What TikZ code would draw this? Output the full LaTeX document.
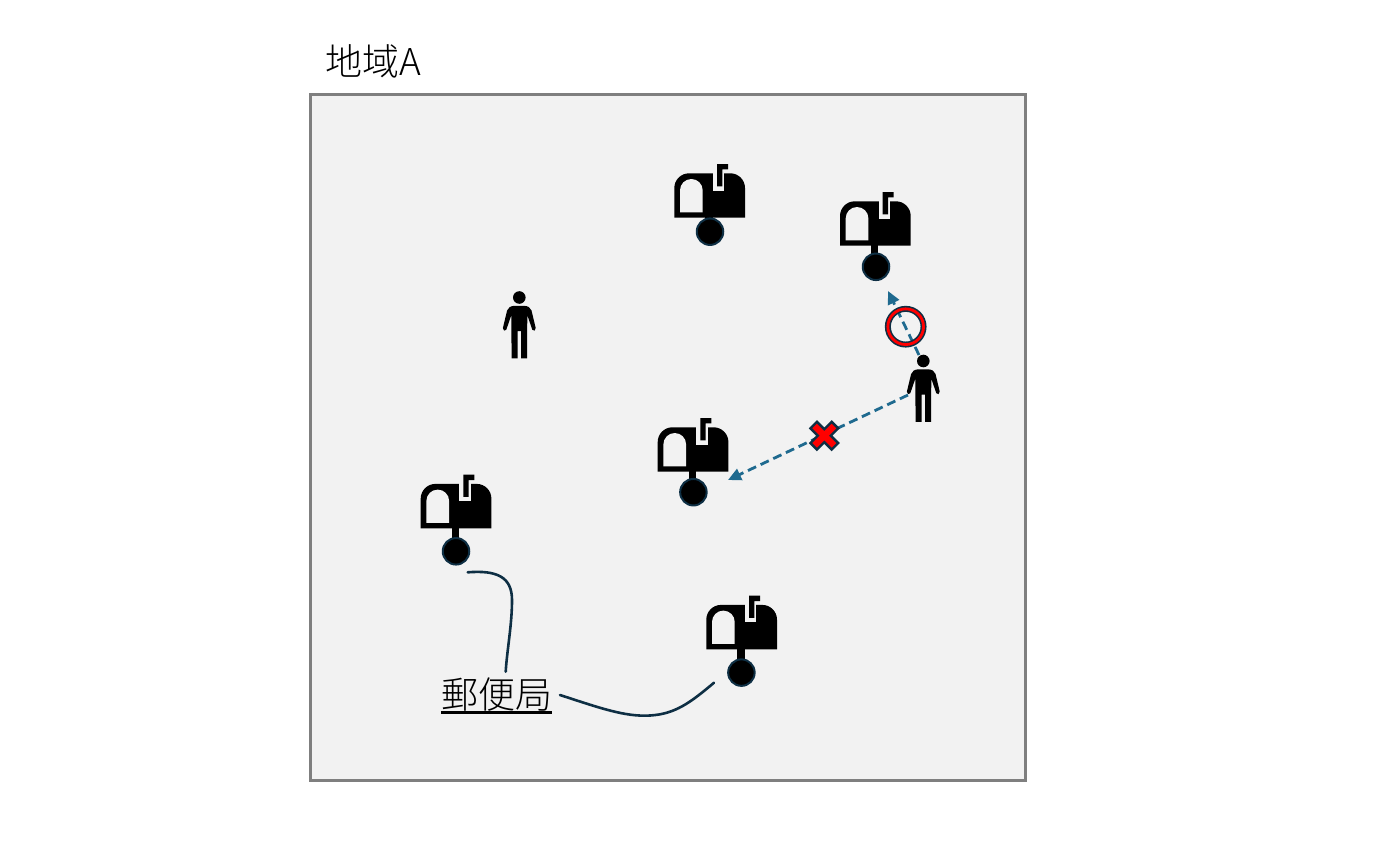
\documentclass[tikz,border=0pt]{standalone}
\usepackage{fontspec}
\usetikzlibrary{arrows.meta}
\newfontfamily\cjk{Noto Sans CJK JP Light}
\definecolor{bgc}{HTML}{F2F2F2}
\definecolor{framec}{HTML}{7F7F7F}
\definecolor{darkc}{HTML}{0E2F44}
\definecolor{arrowc}{HTML}{1F6A8F}
\tikzset{
  x=1pt,y=-1pt,
  label text/.style={font=\cjk\fontsize{37}{40}\selectfont,inner sep=0pt,text=black},
  ball/.style={circle,fill=black,draw=darkc,line width=2pt,minimum size=26.5pt,inner sep=0pt},
  headdot/.style={circle,fill=black,minimum size=12.6pt,inner sep=0pt},
  choice/.style={-{Triangle[length=13pt,width=12pt]},draw=arrowc,line width=2.8pt,dash pattern=on 9pt off 5pt},
  lead/.style={draw=darkc,line width=2.6pt,line cap=round},
  ringmark/.style={circle,line width=#1,minimum size=35.7pt,inner sep=0pt,outer sep=0pt},
  mailbox/.pic={
    \fill[black] (-4.7,-15) rectangle (2.6,-2);
    \fill[black] (-35.7,-14) -- (-35.7,-43.7) .. controls (-35.7,-51.8) and (-29.1,-58.4) .. (-21,-58.4) -- (20.3,-58.4) .. controls (28.4,-58.4) and (35,-51.8) .. (35,-43.7) -- (35,-14) -- cycle;
    \fill[bgc] (-30,-19.4) -- (-30,-41.4) .. controls (-30,-47.6) and (-24.9,-52.7) .. (-18.7,-52.7) .. controls (-12.4,-52.7) and (-7.3,-47.6) .. (-7.3,-41.4) -- (-7.3,-19.4) -- cycle;
    \fill[bgc] (3,-59) rectangle (14.3,-41);
    \fill[black] (7,-45.4) -- (7,-67.7) -- (18,-67.7) -- (18,-62.3) -- (12.3,-62.3) -- (12.3,-45.4) -- cycle;
  },
  person/.pic={
    \node[headdot] (h) at (0,0) {};
    \fill[black] (-5,8.3) -- (5,8.3) .. controls (8.5,8.6) and (11.2,9.8) .. (12.2,13) -- (16.4,30.5) .. controls (16.8,33) and (14,34.5) .. (13,32.2) -- (8,17.7) -- (7.7,60.8) -- (1.7,60.8) -- (1.7,33.5) -- (-1.7,33.5) -- (-1.7,60.8) -- (-7.7,60.8) -- (-8,17.7) -- (-13,32.2) .. controls (-14,34.5) and (-16.8,33) .. (-16.4,30.5) -- (-12.2,13) .. controls (-11.2,9.8) and (-8.5,8.6) .. (-5,8.3) -- cycle;
  }
}
\begin{document}
\begin{tikzpicture}
\useasboundingbox (0,0) rectangle (1400,862);
\node[draw=framec,fill=bgc,line width=3pt,minimum width=715pt,minimum height=686pt,inner sep=0pt,anchor=center] (region) at (668,437.5) {};
\node[label text,anchor=west] (title) at (325.5,61.5) {地域A};
\pic (mA) at (710,231.7) {mailbox};
\pic (mB) at (875.7,259.7) {mailbox};
\pic (mC) at (693.4,485.7) {mailbox};
\pic (mD) at (456.4,542.3) {mailbox};
\pic (mE) at (742,663.3) {mailbox};
\node[ball] (bA) at (710,231.7) {};
\node[ball] (bB) at (876,266.8) {};
\node[ball] (bC) at (693.4,492.2) {};
\node[ball] (bD) at (456,551.3) {};
\node[ball] (bE) at (741.4,672.6) {};
\pic (pA) at (519.3,297.5) {person};
\pic (pB) at (923.3,361) {person};
\coordinate (leftfrom) at (908,395);
\coordinate (leftto) at (728,480);
\coordinate (upfrom) at (919,355);
\coordinate (upto) at (888,291);
\draw[choice] (leftfrom) -- (leftto);
\draw[choice] (upfrom) -- (upto);
\node[ringmark=6pt,draw=darkc] (okd) at (905.7,326.7) {};
\node[ringmark=2.8pt,draw=red] (ok) at (905.7,326.7) {};
\coordinate (ng) at (824.3,435.7);
\draw[shift={(ng)},fill=red,draw=darkc,line width=2.4pt,rotate=45] (-4.6,-15) -- (4.6,-15) -- (4.6,-4.6) -- (15,-4.6) -- (15,4.6) -- (4.6,4.6) -- (4.6,15) -- (-4.6,15) -- (-4.6,4.6) -- (-15,4.6) -- (-15,-4.6) -- (-4.6,-4.6) -- cycle;
\node[label text,anchor=center] (post) at (496.5,694.5) {郵便局};
\draw[black,line width=2.4pt] ([yshift=-1pt]post.south west) -- ([yshift=-1pt]post.south east);
\coordinate (c1a) at (467.7,572.3);
\coordinate (c1b) at (505.7,671.7);
\coordinate (c2a) at (560,695);
\coordinate (c2b) at (714,682.7);
\draw[lead] (c1a) .. controls (497,570) and (512,577) .. (512,600) .. controls (512,625) and (507,650) .. (c1b);
\draw[lead] (c2a) .. controls (600,708) and (625,717) .. (650,715.5) .. controls (675,714) and (690,703) .. (c2b);
\end{tikzpicture}
\end{document}
